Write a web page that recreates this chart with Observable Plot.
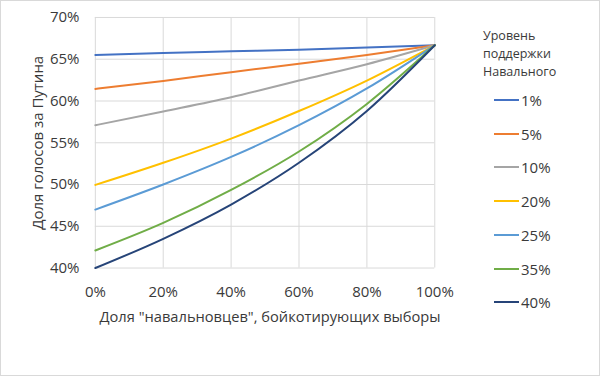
<!DOCTYPE html>
<html><head><meta charset="utf-8">
<script src="https://cdn.jsdelivr.net/npm/d3@7"></script>
<script src="https://cdn.jsdelivr.net/npm/@observablehq/plot@0.6"></script>
<style>
body{margin:0;background:#fff;}
#wrap{position:relative;width:600px;height:376px;box-sizing:border-box;border:1px solid #d9d9d9;font-family:"Open Sans",sans-serif;color:#3a3a3a;overflow:hidden;background:#fff}
#chart{position:absolute;left:-1px;top:-1px}
#legend{position:absolute;left:-1px;top:-1px;width:600px;height:376px;pointer-events:none}
.ltitle{position:absolute;left:483px;top:27px;font-size:12.5px;line-height:18px;color:#3a3a3a;white-space:nowrap}
.item{position:absolute;left:494px;height:20px;display:flex;align-items:center;font-size:15px;color:#3a3a3a}
.sw{width:25px;height:2px;margin-right:2px}
</style></head>
<body>
<div id="wrap"><div id="chart"></div><div id="legend"></div></div>
<script>
// Boycott share of Navalny supporters (x, %)
const boycott = [0, 20, 40, 60, 80, 100];
// Navalny support levels (series)
const levels = ["1%", "5%", "10%", "20%", "25%", "35%", "40%"];
const colors = ["#4472C4", "#ED7D31", "#A5A5A5", "#FFC000", "#5B9BD5", "#70AD47", "#264478"];
// Putin vote share (%) per series, at each boycott value
const v1  = [65.5, 65.75, 65.95, 66.15, 66.4, 66.67];
const v5  = [61.45, 62.4, 63.45, 64.45, 65.5, 66.67];
const v10 = [57.1, 58.75, 60.45, 62.45, 64.4, 66.67];
const v20 = [49.95, 52.6, 55.5, 58.8, 62.45, 66.67];
const v25 = [47.0, 50.0, 53.3, 57.1, 61.5, 66.67];
const v35 = [42.1, 45.4, 49.35, 53.95, 59.65, 66.67];
const v40 = [40.0, 43.5, 47.6, 52.6, 58.8, 66.67];
const yTicks = [40, 45, 50, 55, 60, 65, 70];
const xTicks = [0, 20, 40, 60, 80, 100];
const xTitle = 'Доля "навальновцев", бойкотирующих выборы';
const yTitle = "Доля голосов за Путина";
const legendTitle = ["Уровень", "поддержки", "Навального"];

const seriesVals = [v1, v5, v10, v20, v25, v35, v40];
const data = [];
levels.forEach((lv, i) => boycott.forEach((b, j) => data.push({level: lv, x: b, y: seriesVals[i][j]})));

const chart = Plot.plot({
  width: 600, height: 376,
  marginLeft: 95, marginRight: 165, marginTop: 17, marginBottom: 108,
  style: {fontFamily: '"Open Sans", sans-serif', fontSize: "15px", color: "#3a3a3a", background: "transparent", overflow: "visible"},
  x: {domain: [0, 100], label: null},
  y: {domain: [40, 70], label: null},
  color: {domain: levels, range: colors},
  marks: [
    Plot.gridY(yTicks, {stroke: "#d9d9d9", strokeOpacity: 1, strokeWidth: 1}),
    Plot.gridX(xTicks, {stroke: "#d9d9d9", strokeOpacity: 1, strokeWidth: 1}),
    Plot.axisX({ticks: xTicks, tickFormat: d => d + "%", tickSize: 0, tickPadding: 18, fontSize: 15, label: null}),
    Plot.axisY({ticks: yTicks, tickFormat: d => d + "%", tickSize: 0, tickPadding: 16, fontSize: 15, label: null}),
    Plot.line(data, {x: "x", y: "y", z: "level", stroke: "level", strokeWidth: 2, curve: "monotone-x"}),
    Plot.text([xTitle], {frameAnchor: "bottom", dy: 49, dx: 5, fontSize: 14.7, textAnchor: "middle", lineAnchor: "middle", fill: "#3a3a3a"}),
    Plot.text([yTitle], {frameAnchor: "left", dx: -57, rotate: -90, fontSize: 15, textAnchor: "middle", lineAnchor: "middle", fill: "#3a3a3a"})
  ]
});
document.getElementById("chart").appendChild(chart);

const leg = document.getElementById("legend");
const t = document.createElement("div");
t.className = "ltitle";
t.innerHTML = legendTitle.join("<br>");
leg.appendChild(t);
levels.forEach((lv, i) => {
  const it = document.createElement("div");
  it.className = "item";
  it.style.top = (90 + i * 33.7) + "px";
  it.innerHTML = `<span class="sw" style="background:${colors[i]}"></span><span>${lv}</span>`;
  leg.appendChild(it);
});
</script>
</body></html>
